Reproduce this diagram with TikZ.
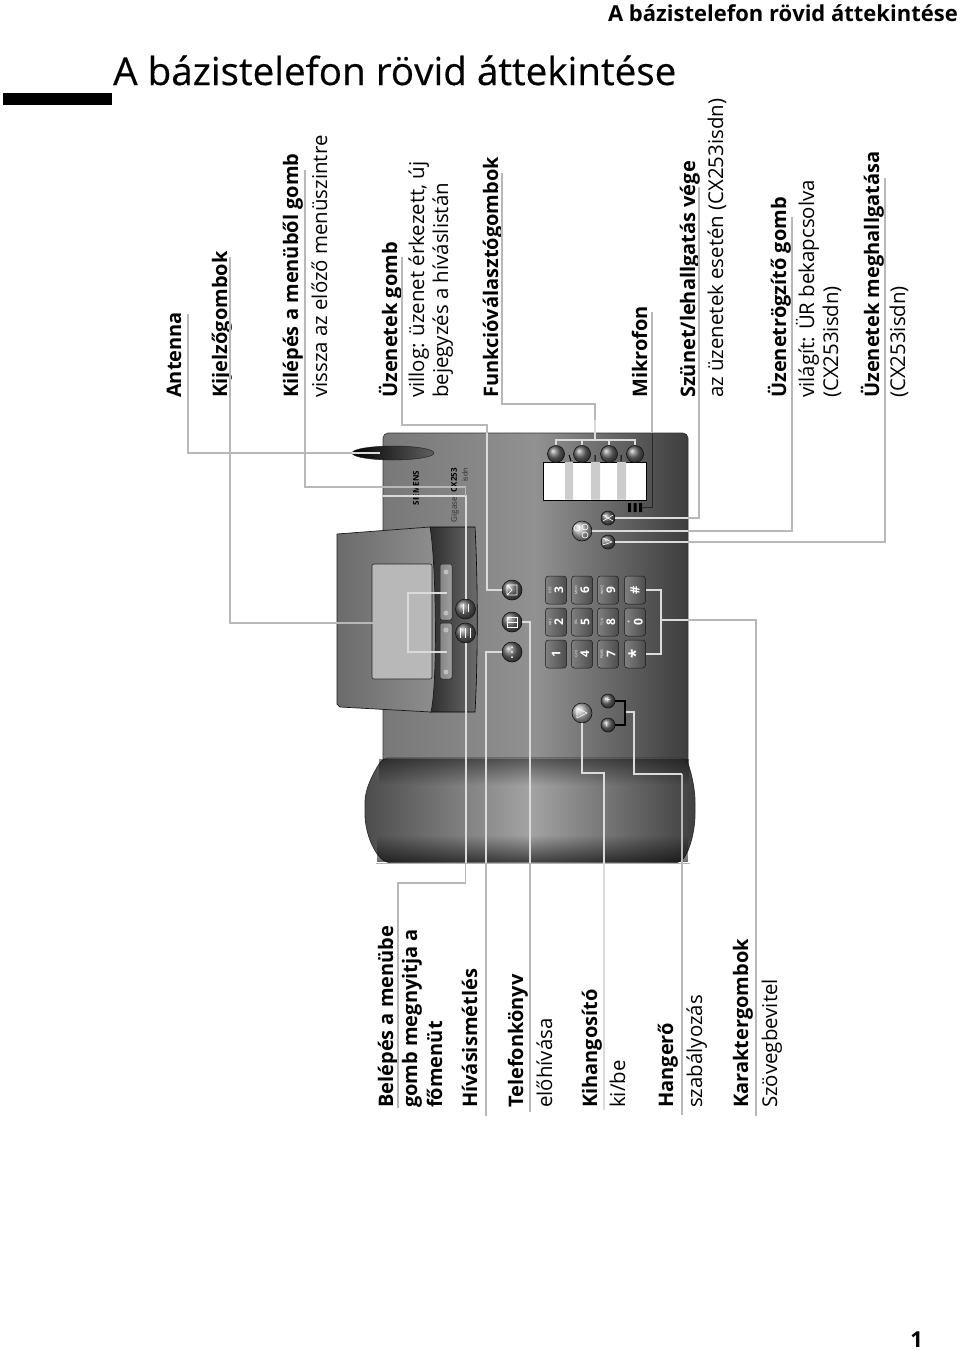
\documentclass[tikz,border=0pt]{standalone}
\usepackage{fontspec}
\setmainfont{Open Sans}
\usetikzlibrary{shapes.geometric, positioning, calc, fadings}
\definecolor{cleader}{gray}{0.72}
\definecolor{cwire}{gray}{0.86}
\definecolor{cdisplay}{gray}{0.72}
\definecolor{cstrip}{gray}{0.80}
\definecolor{cbodyl}{gray}{0.47}
\definecolor{cbodym}{gray}{0.57}
\definecolor{cbodyr}{gray}{0.24}
\definecolor{ckeyl}{gray}{0.50}
\definecolor{ckeyr}{gray}{0.30}
\definecolor{cbtn}{gray}{0.42}
\definecolor{cbtnl}{gray}{0.72}

\begin{document}
\begin{tikzpicture}[
    x=1pt, y=-1pt,
    lblhead/.style={rotate=90, anchor=base west, inner sep=0pt, font=\fontsize{20}{24}\selectfont\bfseries},
    lblsub/.style={rotate=90, anchor=base west, inner sep=0pt, font=\fontsize{20.4}{24}\selectfont},
    leader/.style={draw=cleader, line width=1.1pt},
    wire/.style={draw=cwire, line width=2pt},
    glyph/.style={draw=white, line width=0.6pt},
    roundkey/.style={circle, draw=gray!15!black, line width=0.6pt, inner sep=0pt, minimum size=#1, shading=ball, ball color=cbtn, text=white},
    roundkey/.default=20pt,
    numkey/.style={rectangle, rounded corners=3pt, draw=gray!20!black, line width=0.5pt, inner sep=0pt, minimum width=21pt, minimum height=28pt, left color=ckeyl, right color=ckeyr, text=white},
    softkey/.style={rectangle, rounded corners=2pt, draw=gray!20!black, line width=0.5pt, inner sep=0pt, minimum width=12pt, minimum height=56pt, left color=gray!95, right color=gray!75}
]
\useasboundingbox (0,0) rectangle (960,1350);

%% Titles
\node[anchor=base east, inner sep=0pt, font=\fontsize{22}{26}\selectfont\bfseries] (page_head) at (958,21) {A bázistelefon rövid áttekintése};
\node[anchor=base west, inner sep=0pt, font=\fontsize{38.6}{44}\selectfont\addfontfeature{FakeBold=0.4}] (main_title) at (113,85) {A bázistelefon rövid áttekintése};
\node[anchor=north west, inner sep=0pt, fill=black, minimum width=109pt, minimum height=12pt] (title_bar) at (3,93) {};
\node[anchor=base east, inner sep=0pt, font=\fontsize{22}{26}\selectfont\bfseries] (page_no) at (923,1347) {1};

%% Phone body
\draw[draw=gray!40!black, line width=0.6pt, left color=cbodyl, right color=cbodyr, middle color=cbodym, rounded corners=5pt] (383,433) rectangle (688,775);
\draw[draw=gray!40!black, line width=0.8pt, left color=gray!60!black, right color=gray!50!black, middle color=gray!72, rounded corners=6pt]
    (383,758) .. controls (372,775) and (365,790) .. (365,808) .. controls (365,830) and (372,850) .. (386,863) -- (680,863) .. controls (690,850) and (695,830) .. (695,808) .. controls (695,790) and (692,775) .. (686,758) -- cycle;
\fill[black, opacity=0.45, path fading=south] (379,759) rectangle (689,785);
\fill[black, opacity=0.6, path fading=north] (377,835) rectangle (688,862);
\draw[gray!60, line width=0.7pt] (376,863) -- (690,863);

%% Display unit
\draw[draw=black, line width=0.6pt, left color=gray!36!black, right color=gray!85!black] (430,527) -- (475,527) .. controls (478,580) and (478,660) .. (475,712) -- (430,712) -- cycle;
\draw[draw=gray!20!black, line width=0.7pt, left color=gray!84!black, right color=gray!88] (337,534) -- (430,527) .. controls (436,560) and (438,680) .. (431,712) -- (340,707) -- (337,704) -- cycle;
\draw[draw=gray!30!black, line width=0.6pt, fill=cdisplay, rounded corners=2pt] (372,564) rectangle (432,679);

\node[softkey] (soft_up) at (446,592) {};
\node[softkey] (soft_down) at (446,651) {};
\fill[gray!50] (446,572) circle (2.5pt) (446,613) circle (2.5pt) (446,630) circle (2.5pt) (446,672) circle (2.5pt);

%% Antenna and brand
\node[ellipse, inner sep=0pt, minimum width=82pt, minimum height=14pt, draw=gray!20!black, left color=black, right color=gray!75!black] (antenna) at (393,453) {};
\node[rotate=90, inner sep=0pt, font=\fontsize{8}{9}\selectfont\bfseries] (brand) at (416,488) {SIEMENS};
\node[rotate=90, inner sep=0pt, font=\fontsize{8}{9}\selectfont, text=gray!35!black] (model) at (455,495) {Gigaset \textbf{\textcolor{black}{CX253}}};
\node[rotate=90, inner sep=0pt, font=\fontsize{7}{8}\selectfont, text=gray!30!black] (model_isdn) at (465,475) {isdn};

%% Function keys and label strip
\draw[draw=black, line width=0.7pt, fill=white] (543,462) rectangle (646,500);
\fill[cstrip] (565,462) rectangle (573,499.5) (591,462) rectangle (600,499.5) (617,462) rectangle (626,499.5);
\draw[black, line width=1pt] (569,455) -- (571,461) (595,455) -- (595,461) (621,455) -- (621,461);
\node[roundkey=17pt] (fn_one) at (556,454) {};
\node[roundkey=17pt] (fn_two) at (582,454) {};
\node[roundkey=17pt] (fn_three) at (609,454) {};
\node[roundkey=17pt] (fn_four) at (635,454) {};

%% Microphone
\node[inner sep=0pt, minimum width=14pt, minimum height=9pt] (mic) at (635,507.5) {};
\fill[black] (628,503) rectangle (631,512) (633.5,503) rectangle (636.5,512) (639,503) rectangle (642,512);

%% Round keys
\node[roundkey=14pt] (pause_btn) at (608,518) {};
\node[roundkey=20pt, ball color=cbtnl] (tam_btn) at (582,531) {};
\node[roundkey=14pt] (play_btn) at (608,542) {};
\node[roundkey=20pt] (msg_btn) at (512,590) {};
\node[roundkey=20pt] (book_btn) at (512,622) {};
\node[roundkey=20pt] (redial_btn) at (512,652) {};
\node[roundkey=20pt] (exit_btn) at (465.5,609) {};
\node[roundkey=20pt] (menu_btn) at (465.5,633) {};
\node[roundkey=20pt, ball color=cbtnl] (spk_btn) at (582,713) {};
\node[roundkey=14pt, font=\fontsize{10}{10}\selectfont] (vol_up) at (608,701) {+};
\node[roundkey=14pt, font=\fontsize{10}{10}\selectfont] (vol_down) at (608,725) {\rotatebox{90}{--}};

%% Key glyphs
\draw[glyph] (507,585) rectangle (517,595) (507,585) -- (512,590) -- (507,595);
\draw[glyph] (507,617) rectangle (517,627) (507,622) -- (517,622);
\draw[glyph] (460,628) -- (460,638) (465,628) -- (465,638) (470,628) -- (470,638);
\draw[glyph] (463,604) -- (463,614) (468,604) -- (468,612);
\fill[white] (512,647) circle (1pt) (512,652) circle (1pt) (512,657) circle (1pt);
\draw[glyph] (603,515) -- (613,521) (603,521) -- (613,515);
\draw[glyph] (603,545) -- (612,542) -- (603,538) -- cycle;
\draw[glyph] (577,528) circle (3pt) (585,527) circle (3pt) (585,535) circle (3pt);
\draw[glyph] (577,708) -- (587,713) -- (577,718) -- cycle;

%% Keypad
\node[numkey] (key_three) at (556,590) {\rotatebox{90}{\shortstack{\fontsize{3.5}{4}\selectfont DEF\\\fontsize{12}{12}\selectfont\bfseries 3}}};
\node[numkey] (key_two) at (556,622) {\rotatebox{90}{\shortstack{\fontsize{3.5}{4}\selectfont ABC\\\fontsize{12}{12}\selectfont\bfseries 2}}};
\node[numkey] (key_one) at (556,654) {\rotatebox{90}{\fontsize{12}{12}\selectfont\bfseries 1}};
\node[numkey] (key_six) at (582,590) {\rotatebox{90}{\shortstack{\fontsize{3.5}{4}\selectfont MNO\\\fontsize{12}{12}\selectfont\bfseries 6}}};
\node[numkey] (key_five) at (582,622) {\rotatebox{90}{\shortstack{\fontsize{3.5}{4}\selectfont JKL\\\fontsize{12}{12}\selectfont\bfseries 5}}};
\node[numkey] (key_four) at (582,654) {\rotatebox{90}{\shortstack{\fontsize{3.5}{4}\selectfont GHI\\\fontsize{12}{12}\selectfont\bfseries 4}}};
\node[numkey] (key_nine) at (608,590) {\rotatebox{90}{\shortstack{\fontsize{3.5}{4}\selectfont WXYZ\\\fontsize{12}{12}\selectfont\bfseries 9}}};
\node[numkey] (key_eight) at (608,622) {\rotatebox{90}{\shortstack{\fontsize{3.5}{4}\selectfont TUV\\\fontsize{12}{12}\selectfont\bfseries 8}}};
\node[numkey] (key_seven) at (608,654) {\rotatebox{90}{\shortstack{\fontsize{3.5}{4}\selectfont PQRS\\\fontsize{12}{12}\selectfont\bfseries 7}}};
\node[numkey] (key_hash) at (635,590) {\rotatebox{90}{\fontsize{13}{13}\selectfont\bfseries \#}};
\node[numkey] (key_zero) at (635,622) {\rotatebox{90}{\shortstack{\fontsize{6}{6}\selectfont +\\\fontsize{12}{12}\selectfont\bfseries 0}}};
\node[numkey] (key_star) at (635,654) {\rotatebox{90}{\fontsize{17}{17}\selectfont\bfseries *}};

%% Labels, top row
\node[lblhead] (antenna_lbl) at (181,398) {Antenna};
\node[lblhead] (display_lbl) at (227,398) {Kijelzőgombok};
\node[lblhead] (exit_lbl) at (298,398) {Kilépés a menüből gomb};
\node[lblsub] (exit_sub) at (327,398) {vissza az előző menüszintre};
\node[lblhead] (msg_lbl) at (397,398) {Üzenetek gomb};
\node[lblsub] (msg_sub) at (424,398) {villog: üzenet érkezett, új};
\node[lblsub] (msg_subb) at (448,398) {bejegyzés a híváslistán};
\node[lblhead] (fn_lbl) at (498,398) {Funkcióválasztógombok};
\node[lblhead] (mic_lbl) at (647,398) {Mikrofon};
\node[lblhead] (pause_lbl) at (695,398) {Szünet/lehallgatás vége};
\node[lblsub] (pause_sub) at (723,398) {az üzenetek esetén (CX253isdn)};
\node[lblhead] (tam_lbl) at (786,398) {Üzenetrögzítő gomb};
\node[lblsub] (tam_sub) at (814,398) {világít: ÜR bekapcsolva};
\node[lblsub] (tam_subb) at (838,398) {(CX253isdn)};
\node[lblhead] (play_lbl) at (879,398) {Üzenetek meghallgatása};
\node[lblsub] (play_sub) at (905,398) {(CX253isdn)};

%% Labels, bottom row
\node[lblhead] (menu_lbl) at (393,1108) {Belépés a menübe};
\node[lblhead] (menu_sub) at (417,1108) {gomb megnyitja a};
\node[lblhead] (menu_subb) at (442,1108) {főmenüt};
\node[lblhead] (redial_lbl) at (477,1108) {Hívásismétlés};
\node[lblhead] (book_lbl) at (523,1108) {Telefonkönyv};
\node[lblsub] (book_sub) at (552,1108) {előhívása};
\node[lblhead] (spk_lbl) at (597,1108) {Kihangosító};
\node[lblsub] (spk_sub) at (625,1108) {ki/be};
\node[lblhead] (vol_lbl) at (673,1108) {Hangerő};
\node[lblsub] (vol_sub) at (702,1108) {szabályozás};
\node[lblhead] (char_lbl) at (748,1108) {Karaktergombok};
\node[lblsub] (char_sub) at (777,1108) {Szövegbevitel};

%% Connector ends and bends
\coordinate (antenna_top) at (188,314);
\coordinate (antenna_tip) at (380,453);
\coordinate (antenna_in) at (352,453);
\coordinate (display_top) at (230,257);
\coordinate (display_joint) at (408,623);
\coordinate (display_a) at (408,593);
\coordinate (display_b) at (408,652);
\coordinate (display_ea) at (447,593);
\coordinate (display_eb) at (447,652);
\coordinate (exit_top) at (305,170);
\coordinate (exit_bend) at (465.5,487);
\coordinate (exit_jog) at (465.5,496);
\coordinate (exit_in) at (383,496);
\coordinate (msg_top) at (402,257);
\coordinate (msg_bend) at (487,425);
\coordinate (msg_in) at (487,433);
\coordinate (fn_top) at (502,173);
\coordinate (fn_bend) at (502,404);
\coordinate (fn_in) at (595,420);
\coordinate (fn_joint) at (595,440);
\coordinate (mic_top) at (652,312);
\coordinate (pause_top) at (699,187);
\coordinate (pause_in) at (688,518);
\coordinate (tam_top) at (792,217);
\coordinate (tam_in) at (688,531);
\coordinate (play_top) at (885,178);
\coordinate (play_in) at (688,542);
\coordinate (menu_end) at (398,1108);
\coordinate (menu_bend) at (398,883);
\coordinate (menu_in) at (465.5,863);
\coordinate (redial_end) at (486,1116);
\coordinate (redial_in) at (486,863);
\coordinate (book_end) at (530,1112);
\coordinate (book_in) at (530,863);
\coordinate (spk_end) at (604,1110);
\coordinate (spk_bend) at (604,773);
\coordinate (vol_end) at (682,1115);
\coordinate (vol_a) at (682,774);
\coordinate (vol_b) at (634,712);
\coordinate (vol_joint) at (625,712);
\coordinate (char_end) at (756,1116);
\coordinate (char_in) at (688,620);
\coordinate (char_joint) at (661,620);
\coordinate (mic_in) at (652,433);

%% Leaders
\draw[leader] (antenna_top) |- (antenna_tip);
\draw[wire] (antenna_in) -- (antenna_tip);
\draw[leader] (display_top) |- (display_joint);
\draw[wire] (display_joint) -- (display_a) -- (display_ea);
\draw[wire] (display_joint) -- (display_b) -- (display_eb);
\draw[wire] (exit_in) -| (exit_btn);
\draw[leader] (exit_top) |- (exit_bend) -- (exit_jog);
\draw[leader] (msg_top) |- (msg_bend) -- (msg_in);
\draw[wire] (msg_in) |- (msg_btn);
\draw[leader] (fn_top) -- (fn_bend) -| (fn_in);
\draw[wire] (fn_in) -- (fn_joint);
\draw[wire] (fn_joint) -| (fn_one);
\draw[wire] (fn_joint) -| (fn_two);
\draw[wire] (fn_joint) -| (fn_three);
\draw[wire] (fn_joint) -| (fn_four);
\draw[leader] (mic_top) -- (mic_in);
\draw[draw=gray!30!black, line width=0.8pt] (mic_in) |- (mic);
\draw[leader] (pause_top) |- (pause_in);
\draw[wire] (pause_in) -- (pause_btn);
\draw[leader] (tam_top) |- (tam_in);
\draw[wire] (tam_in) -- (tam_btn);
\draw[leader] (play_top) |- (play_in);
\draw[wire] (play_in) -- (play_btn);
\draw[leader] (menu_end) -- (menu_bend) -| (menu_in);
\draw[wire] (menu_in) -- (menu_btn);
\draw[leader] (redial_end) -- (redial_in);
\draw[wire] (redial_in) |- (redial_btn);
\draw[leader] (book_end) -- (book_in);
\draw[wire] (book_in) |- (book_btn);
\draw[wire] (spk_end) -- (spk_bend) -| (spk_btn);
\draw[leader] (vol_end) -- (vol_a);
\draw[wire] (vol_a) -| (vol_b) -- (vol_joint);
\draw[draw=black, line width=1.2pt] (vol_up) -| (vol_joint) |- (vol_down);
\draw[leader] (char_end) |- (char_in);
\draw[wire] (char_in) -- (char_joint);
\draw[wire] (char_joint) |- (key_hash);
\draw[wire] (char_joint) |- (key_star);
\end{tikzpicture}
\end{document}
